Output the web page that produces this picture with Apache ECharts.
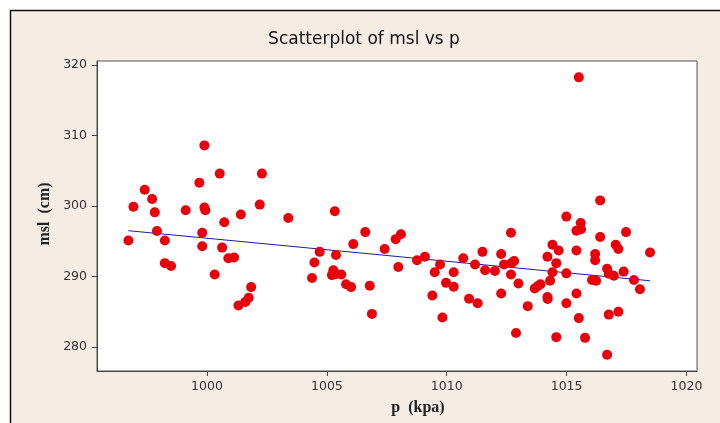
<!DOCTYPE html>
<html>
<head>
<meta charset="utf-8">
<style>
  html, body { margin: 0; padding: 0; background: #ffffff; }
  #chart { width: 720px; height: 423px; }
</style>
<script src="https://cdn.jsdelivr.net/npm/echarts@6/dist/echarts.min.js"></script>
</head>
<body>
<div id="chart"></div>
<script>
// Pressure readings (kpa)
const pressure = [
  999.89, 1000.53, 1002.29, 997.40, 999.68, 997.71, 996.93, 997.82, 999.11, 999.89,
  999.93, 1002.20, 1001.41, 1003.39, 1000.72, 997.91, 996.72, 998.24, 999.80, 999.80,
  1000.63, 1000.89, 1001.13, 998.24, 998.50, 1000.32, 1001.84, 1001.74, 1001.60, 1001.31,
  1005.33, 1006.60, 1006.10, 1004.70, 1005.38, 1004.48, 1004.38, 1005.27, 1005.21, 1005.38,
  1005.60, 1005.80, 1006.01, 1006.79, 1006.88, 1007.41, 1007.87, 1008.09, 1007.98, 1008.76,
  1009.09, 1009.72, 1009.50, 1009.40, 1009.97, 1010.29, 1010.29, 1009.82, 1010.69, 1010.93,
  1011.18, 1011.29, 1011.49, 1011.60, 1012.01, 1012.27, 1012.27, 1012.39, 1012.70, 1012.81,
  1012.68, 1012.68, 1012.99, 1012.89, 1013.38, 1013.67, 1013.80, 1013.91, 1014.20, 1014.21,
  1014.31, 1014.20, 1014.41, 1014.67, 1014.57, 1014.41, 1014.57, 1014.99, 1014.99, 1014.99,
  1015.41, 1015.60, 1015.59, 1015.41, 1015.41, 1015.51, 1015.77, 1016.40, 1016.40, 1016.19,
  1016.19, 1016.06, 1016.23, 1016.69, 1016.76, 1016.97, 1016.76, 1016.69, 1017.05, 1017.16,
  1017.16, 1017.38, 1017.48, 1017.81, 1018.06, 1018.48, 1015.51
];

// Mean sea level (cm)
const msl = [
  308.6, 304.6, 304.6, 302.3, 303.3, 301.0, 299.9, 299.1, 299.4, 299.8,
  299.4, 300.2, 298.8, 298.3, 297.7, 296.45, 295.1, 295.1, 296.2, 294.3,
  294.1, 292.6, 292.7, 291.9, 291.5, 290.3, 288.5, 287.0, 286.4, 285.9,
  299.25, 296.3, 294.6, 293.5, 293.05, 292.0, 289.8, 290.9, 290.2, 290.35,
  290.3, 288.9, 288.5, 288.7, 284.7, 293.9, 295.3, 296.0, 291.35, 292.3,
  292.8, 291.7, 290.6, 287.3, 289.1, 290.6, 288.55, 284.2, 292.6, 286.85,
  291.7, 286.2, 293.5, 290.9, 290.8, 293.2, 287.6, 291.7, 291.9, 292.2,
  296.2, 290.3, 289.0, 282.0, 285.8, 288.3, 288.65, 288.9, 287.1, 286.8,
  289.4, 292.8, 294.5, 293.7, 291.9, 290.6, 281.4, 298.5, 290.45, 286.2,
  296.5, 296.7, 297.6, 293.7, 287.6, 284.1, 281.3, 295.6, 300.8, 293.2,
  292.3, 289.5, 289.4, 291.1, 290.4, 290.1, 284.6, 278.9, 294.5, 293.9,
  285.0, 290.7, 296.3, 289.5, 288.2, 293.4, 318.25
];

// Fitted line end points: [p, msl]
const fitP = [996.72, 1018.48];
const fitMsl = [296.5, 289.4];

// Tick labels
const xTicks = [1000, 1005, 1010, 1015, 1020];
const yTicks = [280, 290, 300, 310, 320];

const points = pressure.map((p, i) => [p, msl[i]]);
const fitLine = fitP.map((p, i) => [p, fitMsl[i]]);

const chart = echarts.init(document.getElementById('chart'), null, { renderer: 'canvas' });

const tickFont = { fontFamily: 'DejaVu Sans', fontSize: 12.5, color: '#333333' };
const plainNumber = (v) => String(v);

chart.setOption({
  animation: false,
  backgroundColor: '#ffffff',
  graphic: [
    {
      type: 'rect', z: -10, silent: true,
      shape: { x: 10.5, y: 10.5, width: 800, height: 500 },
      style: { fill: '#f5ede4', stroke: '#111111', lineWidth: 1.5 }
    },
    {
      type: 'text', z: 10,
      style: {
        text: 'Scatterplot of msl vs p', x: 364, y: 40,
        align: 'center', verticalAlign: 'middle',
        font: '17px "DejaVu Sans"', fill: '#111111'
      }
    },
    {
      type: 'text', z: 10,
      style: {
        text: 'p  (kpa)', x: 418, y: 408,
        align: 'center', verticalAlign: 'middle',
        font: 'bold 16px "Liberation Serif"', fill: '#222222'
      }
    },
    {
      type: 'text', z: 10, x: 45, y: 214, rotation: Math.PI / 2,
      style: {
        text: 'msl  (cm)', x: 0, y: 0,
        align: 'center', verticalAlign: 'middle',
        font: 'bold 16px "Liberation Serif"', fill: '#222222'
      }
    }
  ],
  grid: {
    left: 97, top: 61, right: 23, bottom: 52,
    show: true, backgroundColor: '#ffffff',
    borderColor: '#555555', borderWidth: 1
  },
  xAxis: {
    type: 'value', min: 995.41, max: 1020.44,
    splitLine: { show: false },
    axisLine: { show: true, lineStyle: { color: '#444444', width: 1 } },
    axisTick: { show: true, length: 5, customValues: xTicks, lineStyle: { color: '#444444' } },
    axisLabel: { customValues: xTicks, margin: 9, formatter: plainNumber, ...tickFont }
  },
  yAxis: {
    type: 'value', min: 276.6, max: 320.57,
    splitLine: { show: false },
    axisLine: { show: true, lineStyle: { color: '#444444', width: 1 } },
    axisTick: { show: true, length: 5, customValues: yTicks, lineStyle: { color: '#444444' } },
    axisLabel: { customValues: yTicks, margin: 10, formatter: plainNumber, ...tickFont }
  },
  series: [
    {
      type: 'line', data: fitLine, symbol: 'none', z: 1,
      lineStyle: { color: '#1c1c9e', width: 1 }
    },
    {
      type: 'scatter', data: points, symbol: 'circle', symbolSize: 10, z: 2,
      itemStyle: { color: '#e8000a', opacity: 1 }
    }
  ]
});
</script>
</body>
</html>
